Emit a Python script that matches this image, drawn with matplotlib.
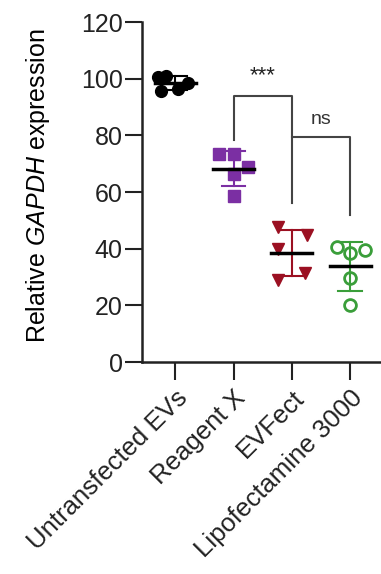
import numpy as np
import matplotlib
matplotlib.use("Agg")
from matplotlib import pyplot as plt

plt.rcParams['font.family'] = ['Liberation Sans', 'DejaVu Sans']
plt.rcParams['mathtext.fontset'] = 'custom'
plt.rcParams['mathtext.rm'] = 'Liberation Sans'
plt.rcParams['mathtext.it'] = 'Liberation Sans:italic'

groups = ["Untransfected EVs", "Reagent X", "EVFect", "Lipofectamine 3000"]
untransfected = [100.5, 101, 95.5, 96.5, 98.5]
reagent_x = [73.5, 73.5, 69, 66.5, 58.5]
evfect = [47.5, 45, 40, 29, 31.5]
lipofectamine = [40.6, 39.5, 38.5, 29.7, 20.3]
values = [untransfected, reagent_x, evfect, lipofectamine]
jitter = [[-0.3, -0.15, -0.25, 0.05, 0.22],
          [-0.25, 0.0, 0.25, 0.0, 0.0],
          [-0.24, 0.26, -0.24, -0.24, 0.22],
          [-0.22, 0.26, 0.0, 0.0, 0.0]]
colors = ["black", "#7b2fa3", "#9b1022", "#3a9e3a"]
markers = ["o", "s", "v", "o"]
filled = [True, True, True, False]

fig = plt.figure(figsize=(3.81, 5.74), dpi=100)
ax = fig.add_axes([0.3727, 0.3693, 0.6273, 0.5923])

for i, vals in enumerate(values):
    x = i + np.array(jitter[i])
    if filled[i]:
        ax.plot(x, vals, linestyle='', marker=markers[i], ms=8.5, color=colors[i], zorder=3)
    else:
        ax.plot(x, vals, linestyle='', marker=markers[i], ms=8.5, mfc='none', mec=colors[i], mew=2, zorder=3)
    m = np.mean(vals)
    sd = np.std(vals, ddof=1)
    ax.plot([i, i], [m - sd, m + sd], color=colors[i], lw=1.5, zorder=2)
    ax.plot([i - 0.2, i + 0.2], [m - sd, m - sd], color=colors[i], lw=1.5, zorder=2)
    ax.plot([i - 0.2, i + 0.2], [m + sd, m + sd], color=colors[i], lw=1.5, zorder=2)
    ax.plot([i - 0.35, i + 0.35], [m, m], color='black', lw=2.5, zorder=4)

# significance brackets
bc = '#444444'
ax.plot([1, 1, 2, 2], [78.5, 94, 94, 56], color=bc, lw=1.5)
ax.text(1.5, 97.5, "***", ha='center', va='bottom', fontsize=16, color='#222222')
ax.plot([2, 3, 3], [79.5, 79.5, 52], color=bc, lw=1.5)
ax.text(2.5, 82.5, "ns", ha='center', va='bottom', fontsize=14, color='#333333')

ax.set_xlim(-0.57, 3.53)
ax.set_ylim(0, 120)
ax.set_yticks(np.arange(0, 121, 20))
ax.set_xticks(range(len(groups)))
ax.set_xticklabels(groups, rotation=45, ha='right', rotation_mode='anchor', fontsize=18.5)
ax.tick_params(axis='y', labelsize=18, length=12, width=1.5, pad=2, colors='#222222')
ax.tick_params(axis='x', length=13, width=1.5, pad=4, colors='#222222')
for s in ['top', 'right']:
    ax.spines[s].set_visible(False)
for s in ['left', 'bottom']:
    ax.spines[s].set_linewidth(1.8)
    ax.spines[s].set_color('#222222')
ax.set_ylabel(r'Relative $\it{GAPDH}$ expression', fontsize=18)
ax.yaxis.set_label_coords(-0.377, 0.519)

fig.savefig("out.png", dpi=100)
